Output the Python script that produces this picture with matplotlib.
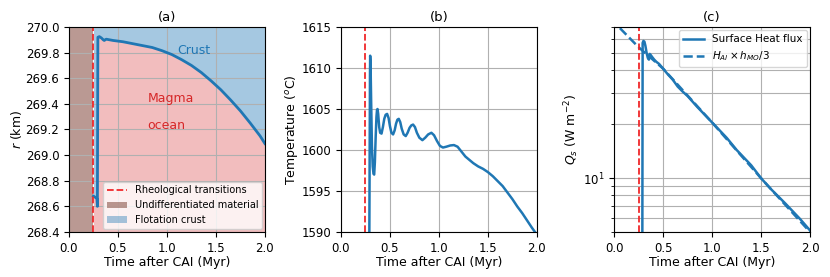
import matplotlib.pyplot as plt
from matplotlib.patches import Patch
from matplotlib.lines import Line2D

plt.rcParams['font.size'] = 9
plt.rcParams['xtick.labelsize'] = 8.5
plt.rcParams['ytick.labelsize'] = 8.5

# (a) crust / magma ocean interface radius (km)
t_a = [0.25, 0.27, 0.285, 0.29, 0.295, 0.31, 0.33, 0.35, 0.36, 0.38, 0.45, 0.55,
       0.65, 0.75, 0.85, 0.95, 1.05, 1.15, 1.25, 1.35, 1.45, 1.55, 1.65, 1.75,
       1.85, 1.95, 2.0]
r_a = [268.68, 268.67, 268.66, 268.60, 269.92, 269.925, 269.915, 269.90, 269.895,
       269.905, 269.895, 269.885, 269.87, 269.855, 269.84, 269.815, 269.785,
       269.745, 269.70, 269.645, 269.58, 269.51, 269.43, 269.345, 269.25, 269.15,
       269.09]
t_rheo = 0.25

# (b) magma ocean temperature (degC)
t_b = [0.288, 0.292, 0.296, 0.298, 0.302, 0.308, 0.316, 0.324, 0.332, 0.339,
       0.346, 0.354, 0.362, 0.368, 0.373, 0.380, 0.390, 0.400, 0.414, 0.428,
       0.442, 0.456, 0.471, 0.486, 0.500, 0.515, 0.532, 0.548, 0.562, 0.576,
       0.590, 0.605, 0.620, 0.640, 0.661, 0.680, 0.700, 0.718, 0.736, 0.755,
       0.775, 0.800, 0.831, 0.860, 0.890, 0.923, 0.950, 0.980, 1.010, 1.041,
       1.075, 1.115, 1.153, 1.190, 1.230, 1.270, 1.310, 1.350, 1.400, 1.450,
       1.500, 1.550, 1.600, 1.650, 1.700, 1.750, 1.800, 1.850, 1.900, 1.950,
       1.980, 2.000]
T_b = [1585.0, 1597.0, 1609.0, 1611.5, 1610.5, 1606.0, 1600.5, 1598.0, 1597.1, 1597.0,
       1598.5, 1601.5, 1604.0, 1604.9, 1605.0, 1604.4, 1602.8, 1602.1, 1602.0, 1602.8,
       1603.8, 1604.3, 1604.4, 1603.9, 1602.9, 1602.1, 1601.9, 1602.4, 1603.2, 1603.7,
       1603.8, 1603.4, 1602.6, 1601.9, 1601.7, 1602.1, 1602.7, 1603.0, 1603.1, 1602.8,
       1602.1, 1601.5, 1601.2, 1601.5, 1601.9, 1602.1, 1601.8, 1601.1, 1600.5, 1600.3,
       1600.4, 1600.55, 1600.6, 1600.4, 1599.8, 1599.2, 1598.8, 1598.4, 1598.0, 1597.7,
       1597.3, 1596.8, 1596.2, 1595.6, 1594.8, 1594.0, 1593.1, 1592.3, 1591.4, 1590.5,
       1590.0, 1589.6]

# (c) surface heat flux (W m^-2)
t_c = [0.283, 0.287, 0.292, 0.300, 0.310, 0.320, 0.333, 0.345, 0.356, 0.364, 0.372,
       0.39, 0.41, 0.43, 0.46, 0.50, 0.55, 0.60, 0.65, 0.70, 0.75, 0.85, 1.0,
       1.15, 1.25, 1.4, 1.5, 1.6, 1.75, 1.9, 2.0]
Q_c = [1.0, 1.0, 57.0, 58.5, 58.0, 55.0, 50.0, 47.0, 46.0, 49.5, 49.0, 47.5, 46.0,
       44.8, 43.5, 41.0, 38.0, 35.5, 32.5, 30.5, 28.8, 25.0, 20.5, 16.8, 14.4, 11.8,
       10.0, 8.7, 7.2, 5.9, 5.1]
t_d = [0.06, 0.25, 0.5, 1.0, 1.5, 2.0]
Q_d = [69.0, 54.0, 41.0, 20.5, 10.0, 5.0]

blue = 'tab:blue'
red = '#f0282a'

fig = plt.figure(figsize=(8.3, 2.77), dpi=100)
ax1 = fig.add_axes([0.0831, 0.1625, 0.2361, 0.74])
ax2 = fig.add_axes([0.4108, 0.1625, 0.2361, 0.74])
ax3 = fig.add_axes([0.7398, 0.1625, 0.2361, 0.74])

# ---- (a) ----
ax1.axvspan(0, t_rheo, color='tab:brown', alpha=0.6, lw=0)
ax1.fill_between(t_a, 268.4, r_a, color='tab:red', alpha=0.3, lw=0)
ax1.fill_between(t_a, r_a, 270.0, color='tab:blue', alpha=0.4, lw=0)
ax1.plot(t_a, r_a, color=blue, lw=2)
ax1.axvline(t_rheo, color=red, ls='--', lw=1.3)
ax1.text(1.1, 269.82, 'Crust', color=blue, fontsize=9, va='center')
ax1.text(0.8, 269.44, 'Magma', color='tab:red', fontsize=9, va='center')
ax1.text(0.8, 269.23, 'ocean', color='tab:red', fontsize=9, va='center')
ax1.set_xlim(0, 2)
ax1.set_ylim(268.4, 270.0)
ax1.set_yticks([268.4 + 0.2 * i for i in range(9)])
ax1.set_xticks([0, 0.5, 1.0, 1.5, 2.0])
ax1.grid(True)
ax1.set_title('(a)', fontsize=9.5, pad=4)
ax1.set_xlabel('Time after CAI (Myr)', labelpad=1)
ax1.set_ylabel('$r$ (km)', labelpad=1)
handles = [Line2D([], [], color=red, ls='--', lw=1.3),
           Patch(facecolor='tab:brown', alpha=0.6),
           Patch(facecolor='tab:blue', alpha=0.4)]
ax1.legend(handles, ['Rheological transitions', 'Undifferentiated material',
                     'Flotation crust'], loc='lower right', fontsize=7,
           handlelength=2.0, borderaxespad=0.3)

# ---- (b) ----
ax2.plot(t_b, T_b, color=blue, lw=1.8)
ax2.axvline(t_rheo, color=red, ls='--', lw=1.3)
ax2.set_xlim(0, 2)
ax2.set_ylim(1590, 1615)
ax2.set_xticks([0, 0.5, 1.0, 1.5, 2.0])
ax2.grid(True)
ax2.set_title('(b)', fontsize=9.5, pad=4)
ax2.set_xlabel('Time after CAI (Myr)', labelpad=1)
ax2.set_ylabel('Temperature ($^o$C)', labelpad=1)

# ---- (c) ----
ax3.plot(t_c, Q_c, color=blue, lw=1.8, label='Surface Heat flux')
ax3.plot(t_d, Q_d, color=blue, lw=1.8, ls='--', label=r'$H_{Al}\times h_{MO}/3$')
ax3.axvline(t_rheo, color=red, ls='--', lw=1.3)
ax3.set_yscale('log')
ax3.set_xlim(0, 2)
ax3.set_ylim(5, 70)
ax3.set_xticks([0, 0.5, 1.0, 1.5, 2.0])
ax3.grid(True, which='both')
ax3.set_title('(c)', fontsize=9.5, pad=4)
ax3.set_xlabel('Time after CAI (Myr)', labelpad=1)
ax3.set_ylabel(r'$Q_s$ (W m$^{-2}$)', labelpad=1)
ax3.legend(loc='upper right', fontsize=7.5, handlelength=2.0, borderaxespad=0.3)

fig.savefig('out.png', dpi=100)
